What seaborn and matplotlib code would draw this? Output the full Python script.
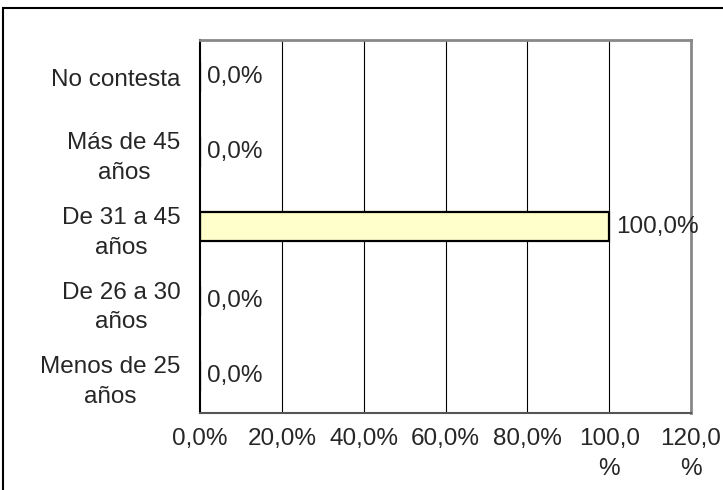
import matplotlib
matplotlib.use("Agg")
from matplotlib import pyplot as plt
from matplotlib.patches import Rectangle
import seaborn as sns
import pandas as pd

sns.set_style("white")
plt.rcParams['font.family'] = ['Liberation Sans', 'DejaVu Sans']

# Data
categorias = ["No contesta", "Más de 45\naños", "De 31 a 45\naños",
              "De 26 a 30\naños", "Menos de 25\naños"]
porcentajes = [0.0, 0.0, 100.0, 0.0, 0.0]
xticks = [0, 20, 40, 60, 80, 100, 120]
xtick_labels = ["0,0%", "20,0%", "40,0%", "60,0%", "80,0%", "100,0\n%", "120,0\n%"]

df = pd.DataFrame({"cat": categorias, "pct": porcentajes})

FS = 17.5
W, H = 723, 490
fig = plt.figure(figsize=(W / 100, H / 100), dpi=100)
ax = fig.add_axes([200 / W, 1 - 413 / H, (691 - 200) / W, (413 - 40) / H])

sns.barplot(data=df, x="pct", y="cat", orient="h", color="#FFFFCC",
            edgecolor="black", linewidth=1.6, width=0.4, saturation=1, ax=ax)

ax.set_xlim(0, 120)
ax.set_ylim(4.5, -0.5)
ax.set_xlabel("")
ax.set_ylabel("")

# vertical grid
for x in xticks[1:-1]:
    ax.axvline(x, color="black", linewidth=0.8, zorder=0)

ax.set_xticks(xticks)
ax.set_xticklabels(xtick_labels, fontsize=FS, linespacing=1.45)
ax.tick_params(axis="x", length=6, width=1, color="#444444", pad=5)

ax.set_yticks(range(len(categorias)))
ax.set_yticklabels(categorias, fontsize=FS, linespacing=1.45)
for lab in ax.get_yticklabels():
    lab.set_multialignment("center")
ax.set_yticks([i - 0.5 for i in range(len(categorias) + 1)], minor=True)
ax.tick_params(axis="y", which="major", length=0, pad=14)
ax.tick_params(axis="y", which="minor", length=7, width=1, color="#333333")

for side in ["top", "right"]:
    ax.spines[side].set_color("#888888")
    ax.spines[side].set_linewidth(2)
ax.spines["bottom"].set_color("#555555")
ax.spines["bottom"].set_linewidth(1.5)
ax.spines["left"].set_color("black")
ax.spines["left"].set_linewidth(1.5)

etiquetas = [f"{v:.1f}%".replace(".", ",") for v in porcentajes]
ax.bar_label(ax.containers[0], labels=etiquetas, padding=5, fontsize=FS)

# outer chart border (cropped on right and bottom)
fig.patches.append(Rectangle((3 / W, -0.2), 1.2, 1.2 - 8 / H,
                             transform=fig.transFigure, fill=False,
                             edgecolor="black", linewidth=1.5))

fig.savefig("out.png", dpi=100)
